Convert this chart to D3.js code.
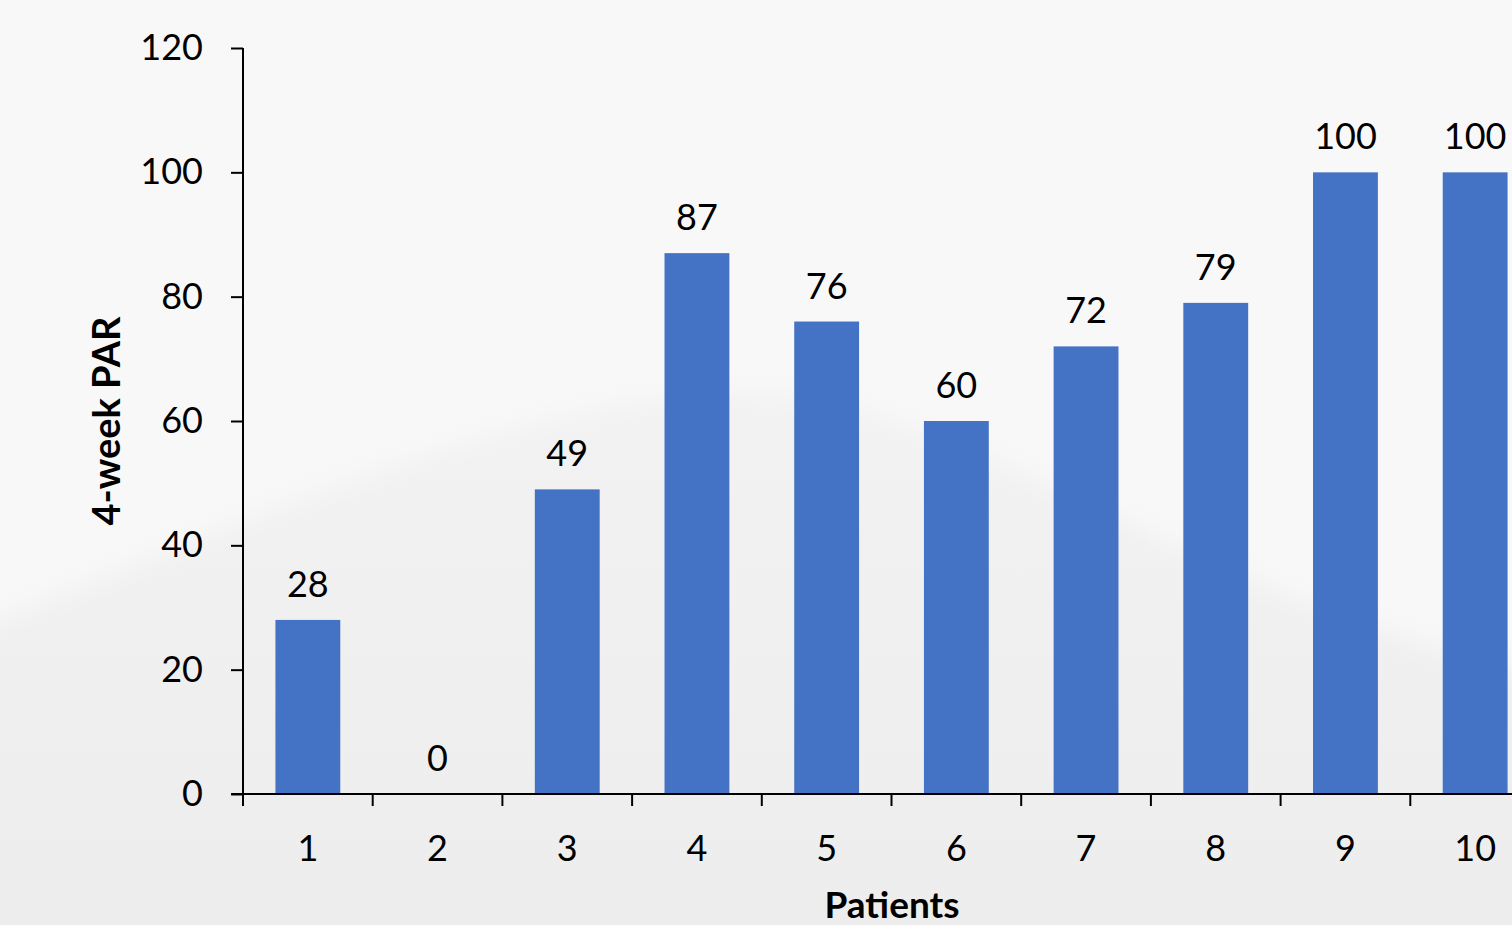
<!DOCTYPE html>
<html>
<head>
<meta charset="utf-8">
<script src="https://cdn.jsdelivr.net/npm/d3@7"></script>
<style>
  html, body { margin: 0; padding: 0; overflow: hidden; }
  svg { display: block; font-family: Lato, "Open Sans", sans-serif; }
</style>
</head>
<body>
<svg id="chart"></svg>
<script>
// chart data
var patients = ['1', '2', '3', '4', '5', '6', '7', '8', '9', '10'];
var parValues = [28, 0, 49, 87, 76, 60, 72, 79, 100, 100];
var yTicks = [0, 20, 40, 60, 80, 100, 120];

var width = 1512;
var height = 925;

var svg = d3.select('#chart')
    .attr('width', width)
    .attr('height', height);

// background: light grey with a soft wave
var defs = svg.append('defs');
var bg = defs.append('linearGradient')
    .attr('id', 'bg')
    .attr('x1', 0).attr('y1', 0).attr('x2', 0).attr('y2', 1);
bg.append('stop').attr('offset', '0%').attr('stop-color', '#f6f6f6');
bg.append('stop').attr('offset', '100%').attr('stop-color', '#ededed');

defs.append('filter').attr('id', 'blur')
    .append('feGaussianBlur').attr('stdDeviation', 12);

svg.append('rect')
    .attr('width', width)
    .attr('height', height)
    .attr('fill', 'url(#bg)');

svg.append('path')
    .attr('d', 'M-50,640 C200,540 480,410 720,392 C900,385 1100,520 1300,600 C1400,640 1480,660 1560,680 L1560,-50 L-50,-50 Z')
    .attr('fill', '#f8f8f8')
    .attr('filter', 'url(#blur)');

// scales
var x = d3.scaleBand()
    .domain(patients)
    .range([243, 1540])
    .paddingInner(0.5)
    .paddingOuter(0.25);

var y = d3.scaleLinear()
    .domain([0, 120])
    .range([794, 48]);

// bars
svg.append('g')
    .selectAll('rect')
    .data(parValues)
    .enter().append('rect')
    .attr('x', function(d, i) { return x(patients[i]); })
    .attr('y', function(d) { return y(d); })
    .attr('width', x.bandwidth())
    .attr('height', function(d) { return y(0) - y(d); })
    .attr('fill', '#4472c4');

// value labels
svg.append('g')
    .selectAll('text')
    .data(parValues)
    .enter().append('text')
    .attr('x', function(d, i) { return x(patients[i]) + x.bandwidth() / 2; })
    .attr('y', function(d) { return y(d) - 23; })
    .attr('text-anchor', 'middle')
    .attr('font-size', 36)
    .attr('fill', '#000')
    .text(function(d) { return d; });

// y axis
var yAxis = svg.append('g')
    .attr('transform', 'translate(243,0)')
    .call(d3.axisLeft(y).tickValues(yTicks).tickSize(12).tickPadding(28));

// x axis
var xTickPos = d3.range(patients.length + 1).map(function(i) { return 243 + i * x.step(); });
var xAxis = svg.append('g')
    .attr('transform', 'translate(0,794)');
xAxis.append('line')
    .attr('x1', 231).attr('x2', width)
    .attr('stroke', '#000').attr('stroke-width', 2);
xAxis.selectAll('.tk')
    .data(xTickPos)
    .enter().append('line')
    .attr('class', 'tk')
    .attr('x1', function(d) { return d; })
    .attr('x2', function(d) { return d; })
    .attr('y1', 0).attr('y2', 12)
    .attr('stroke', '#000').attr('stroke-width', 2);
xAxis.selectAll('text')
    .data(patients)
    .enter().append('text')
    .attr('x', function(d) { return x(d) + x.bandwidth() / 2; })
    .attr('y', 67)
    .attr('text-anchor', 'middle')
    .attr('font-size', 36)
    .attr('fill', '#000')
    .text(function(d) { return d; });

yAxis.select('.domain').attr('stroke-width', 2).attr('d', 'M0,48V794');
yAxis.selectAll('.tick line').attr('stroke-width', 2);
yAxis.selectAll('.tick text')
    .attr('font-size', 36)
    .attr('font-family', 'Lato, "Open Sans", sans-serif')
    .attr('fill', '#000');

// axis titles
svg.append('text')
    .attr('transform', 'translate(120,421) rotate(-90)')
    .attr('text-anchor', 'middle')
    .attr('font-size', 38)
    .attr('font-weight', 'bold')
    .text('4-week PAR');

svg.append('text')
    .attr('x', 892)
    .attr('y', 918)
    .attr('text-anchor', 'middle')
    .attr('font-size', 37)
    .attr('font-weight', 'bold')
    .text('Patients');
</script>
</body>
</html>
